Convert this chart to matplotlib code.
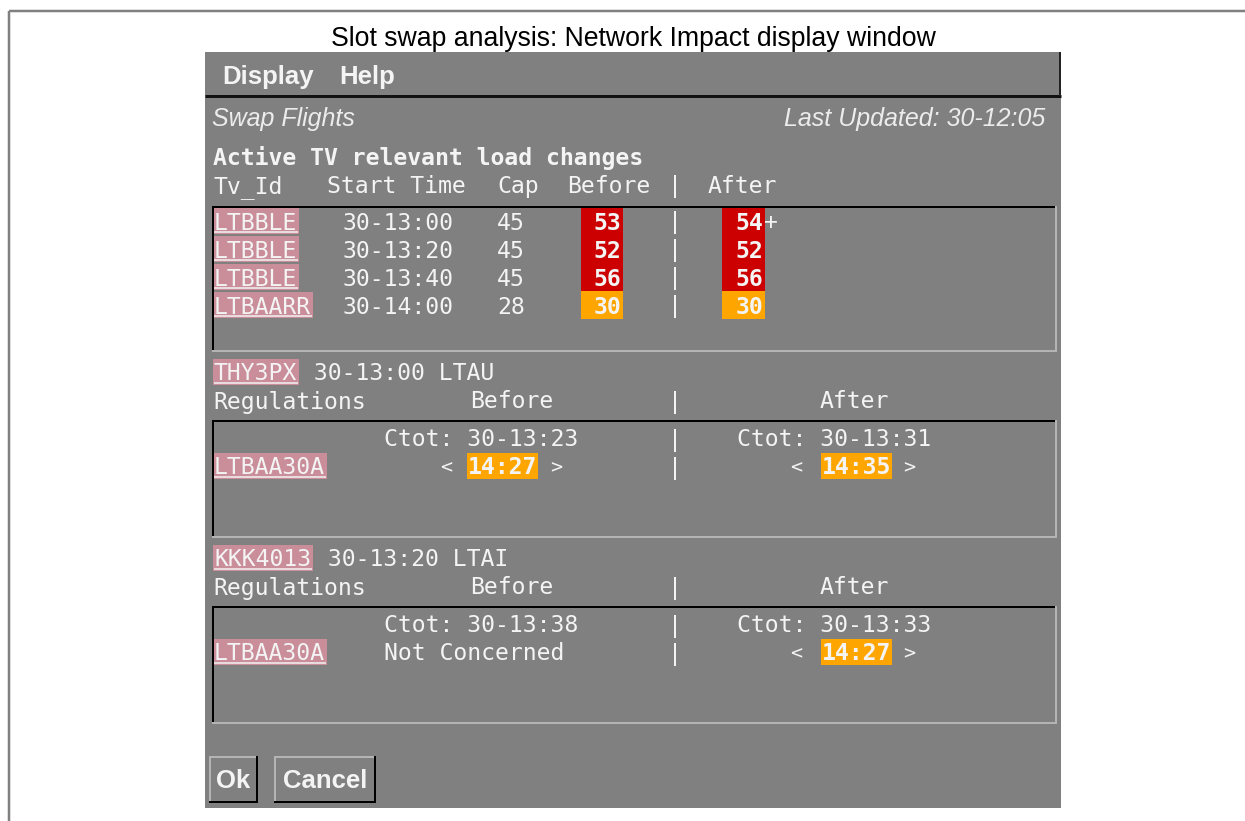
import matplotlib
matplotlib.use('Agg')
import matplotlib.pyplot as plt
from matplotlib.patches import Rectangle

# traffic volume load table
tv_ids = ['LTBBLE', 'LTBBLE', 'LTBBLE', 'LTBAARR']
start_times = ['30-13:00', '30-13:20', '30-13:40', '30-14:00']
caps = [45, 45, 45, 28]
loads_before = [53, 52, 56, 30]
loads_after = [54, 52, 56, 30]
after_flags = ['+', '', '', '']

# the two swapped flights
flight_ids = ['THY3PX', 'KKK4013']
flight_eobt = ['30-13:00', '30-13:20']
flight_adep = ['LTAU', 'LTAI']
regulation_ids = ['LTBAA30A', 'LTBAA30A']
ctot_before = ['30-13:23', '30-13:38']
ctot_after = ['30-13:31', '30-13:33']
slot_before = ['14:27', None]   # None -> Not Concerned
slot_after = ['14:35', '14:27']

W, H = 1245, 821
GREY = '#808080'
TXT = '#f4f4f4'
PINK = '#c98e99'
RED = '#cc0000'
ORANGE = '#ffa500'
MONO = 'DejaVu Sans Mono'
SANS = 'Liberation Sans'
FS = 16.7
PX = 0.72  # points per pixel

fig = plt.figure(figsize=(W / 100, H / 100), dpi=100)
ax = fig.add_axes([0, 0, 1, 1])
ax.set_xlim(0, W)
ax.set_ylim(H, 0)
ax.axis('off')


def rect(x0, y0, x1, y1, color, z=1):
    ax.add_patch(Rectangle((x0, y0), x1 - x0, y1 - y0, facecolor=color,
                           edgecolor='none', zorder=z))


def hline(x0, x1, y, color, lw=2, z=3):
    ax.plot([x0, x1], [y, y], color=color, lw=lw * PX, solid_capstyle='butt', zorder=z)


def vline(x, y0, y1, color, lw=2, z=3):
    ax.plot([x, x], [y0, y1], color=color, lw=lw * PX, solid_capstyle='butt', zorder=z)


def mono(x, y, s, bold=False, size=FS, **kw):
    ax.text(x, y, s, family=MONO, fontsize=size, color=TXT,
            weight='bold' if bold else 'normal', va='baseline', zorder=5, **kw)


def sunken(x0, y0, x1, y1):
    hline(x0, x1, y0 + 1, '#000000')
    vline(x0 + 1, y0, y1, '#000000')
    hline(x0, x1, y1 - 1, '#b4b4b4')
    vline(x1 - 1, y0, y1, '#b4b4b4')


def raised(x0, y0, x1, y1):
    hline(x0, x1, y0 + 1, '#b4b4b4')
    vline(x0 + 1, y0, y1, '#b4b4b4')
    hline(x0, x1, y1 - 1, '#000000')
    vline(x1 - 1, y0, y1, '#000000')


def link(x, yc, s):
    # pink highlighted, underlined identifier
    w = 14 * len(s) + 2
    rect(x, yc - 13, x + w, yc + 13, PINK, z=2)
    hline(x + 1, x + w - 1, yc + 11, TXT, lw=1.5, z=4)
    mono(x + 1, yc + 8.5, s)
    return x + w


def slot(x_lt, x0, x1, x_gt, yc, s):
    # "< hh:mm >" with the time on an orange patch
    mono(x_lt, yc + 7, '<', size=14.5)
    rect(x0, yc - 13, x1, yc + 13, ORANGE)
    mono((x0 + x1) / 2, yc + 8.5, s, bold=True, ha='center')
    mono(x_gt, yc + 7, '>', size=14.5)


def load_colour(load, cap):
    return RED if load / cap > 1.1 else ORANGE


# outer frame and caption
hline(9, W, 11, GREY, lw=2.5)
vline(9, 11, H, GREY, lw=2.5)
ax.text(633, 46, 'Slot swap analysis: Network Impact display window', family=SANS,
        fontsize=19.2, ha='center', va='baseline', color='black')

# window
rect(205, 52, 1061, 808, GREY)
hline(205, 1061, 96, '#111111', lw=3)
vline(1060, 52, 96, '#222222', lw=2)
ax.text(222, 84, 'Display', family=SANS, weight='bold', fontsize=18.5, color=TXT, va='baseline')
ax.text(339, 84, 'Help', family=SANS, weight='bold', fontsize=18.5, color=TXT, va='baseline')

ax.text(212, 126, 'Swap Flights', family=SANS, style='italic', fontsize=18,
        color='#ececec', va='baseline')
ax.text(1045, 126, 'Last Updated: 30-12:05', family=SANS, style='italic', fontsize=18,
        color='#ececec', va='baseline', ha='right')

# load changes table
mono(213, 165, 'Active TV relevant load changes', bold=True)
for x, s in zip([213, 327, 497, 567, 668, 708], ['Tv_Id', 'Start Time', 'Cap', 'Before', '|', 'After']):
    mono(x, 193, s)

sunken(212, 206, 1057, 352)
for i in range(len(tv_ids)):
    top = 207 + 28 * i
    yc = top + 14
    base = yc + 8.5
    link(213, yc, tv_ids[i])
    mono(343, base, start_times[i])
    mono(497, base, str(caps[i]))
    rect(581, top, 623, top + 28, load_colour(loads_before[i], caps[i]))
    mono(621, base, str(loads_before[i]), bold=True, ha='right')
    mono(668, base, '|')
    rect(722, top, 765, top + 28, load_colour(loads_after[i], caps[i]))
    mono(763, base, str(loads_after[i]), bold=True, ha='right')
    if after_flags[i]:
        mono(764, base, after_flags[i])

# per-flight regulation sections
for k in range(len(flight_ids)):
    dy = 186 * k
    end = link(213, 372 + dy, flight_ids[k])
    mono(end + 1, 372 + dy + 8.5, ' %s %s' % (flight_eobt[k], flight_adep[k]))
    for x, s in zip([213, 470, 668, 820], ['Regulations', 'Before', '|', 'After']):
        mono(x, 400 + dy + 8.5, s)
    sunken(212, 420 + dy, 1057, 538 + dy)
    yc1 = 438 + dy
    yc2 = 466 + dy
    mono(384, yc1 + 8.5, 'Ctot: ' + ctot_before[k])
    mono(668, yc1 + 8.5, '|')
    mono(737, yc1 + 8.5, 'Ctot: ' + ctot_after[k])
    link(213, yc2, regulation_ids[k])
    if slot_before[k] is None:
        mono(384, yc2 + 8.5, 'Not Concerned')
    else:
        slot(440, 467, 538, 550, yc2, slot_before[k])
    mono(668, yc2 + 8.5, '|')
    slot(790, 821, 892, 903, yc2, slot_after[k])

# buttons
raised(209, 756, 258, 803)
raised(274, 756, 376, 803)
ax.text(233.5, 781, 'Ok', family=SANS, weight='bold', fontsize=18.5, color=TXT,
        ha='center', va='center', zorder=5)
ax.text(325, 781, 'Cancel', family=SANS, weight='bold', fontsize=18.5, color=TXT,
        ha='center', va='center', zorder=5)

fig.savefig('out.png', dpi=100, facecolor='white')
